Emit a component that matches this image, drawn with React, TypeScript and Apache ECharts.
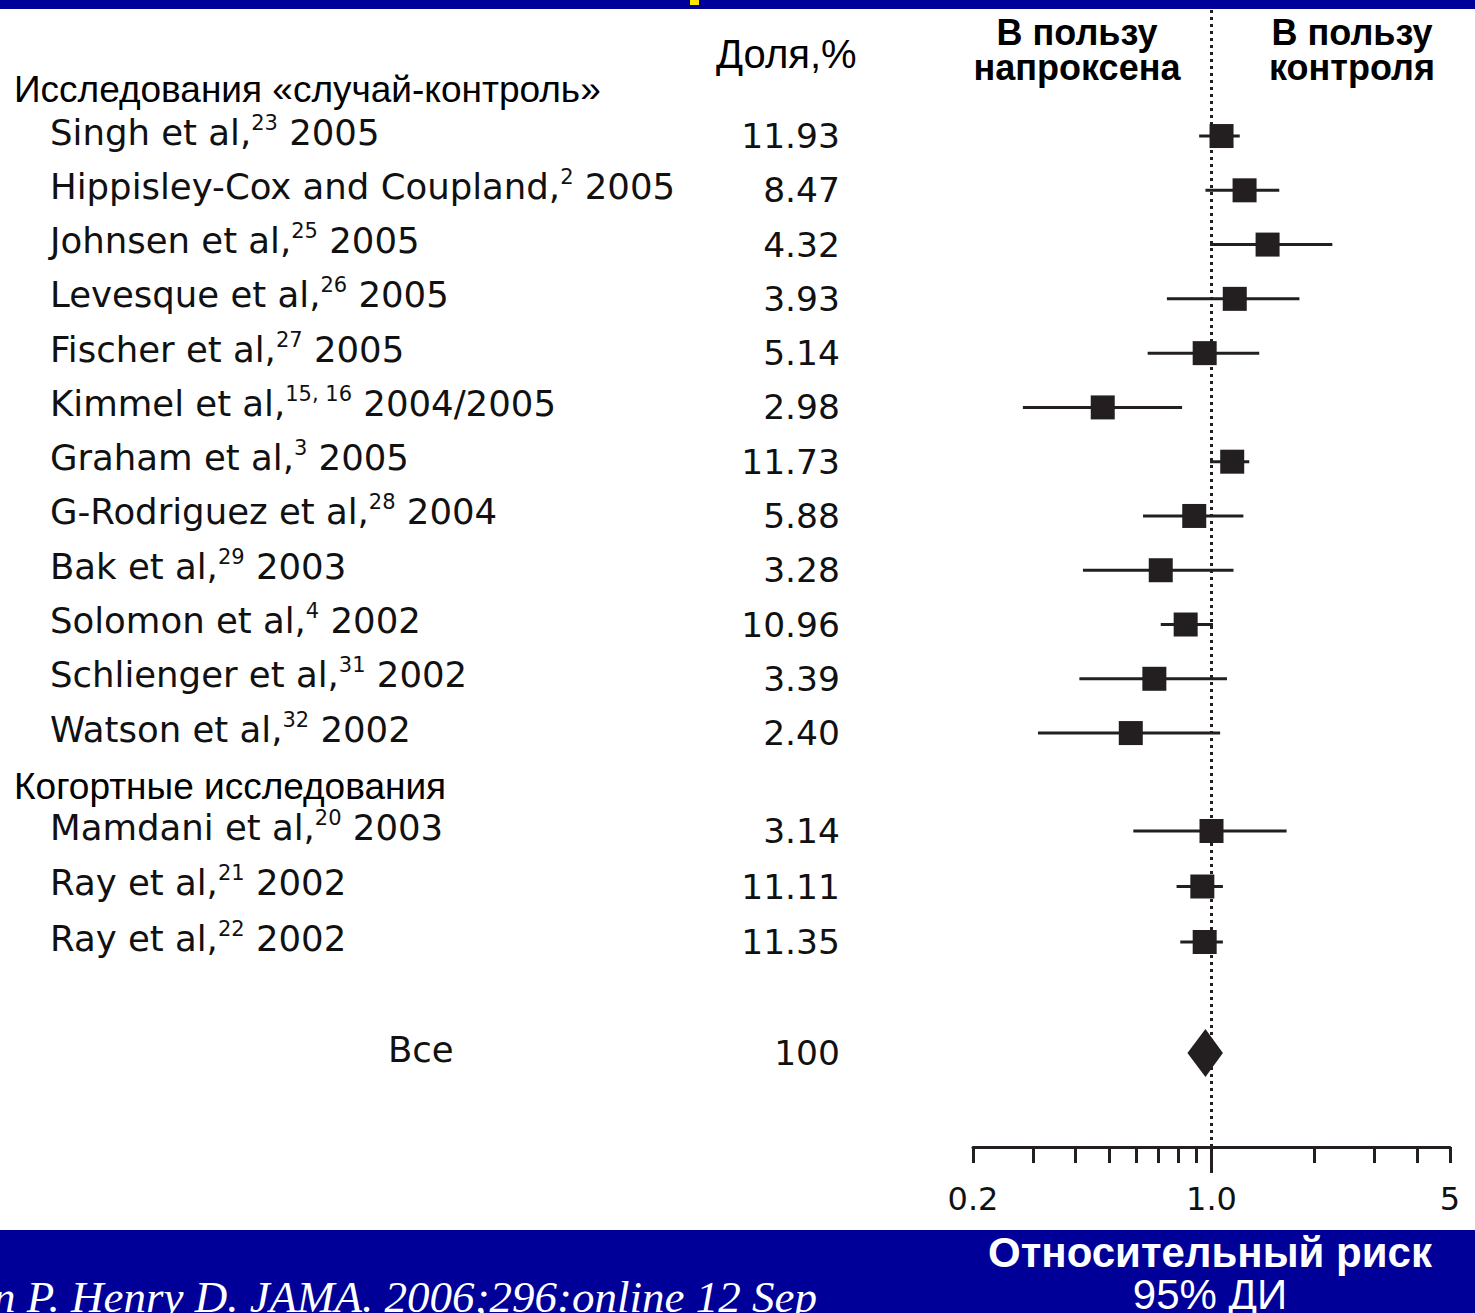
import React, { useEffect, useRef } from "react";
import * as echarts from "echarts";

// ---------- data ----------
const caseAuthors = [
  "Singh et al,",
  "Hippisley-Cox and Coupland,",
  "Johnsen et al,",
  "Levesque et al,",
  "Fischer et al,",
  "Kimmel et al,",
  "Graham et al,",
  "G-Rodriguez et al,",
  "Bak et al,",
  "Solomon et al,",
  "Schlienger et al,",
  "Watson et al,",
];
const caseRefs = ["23", "2", "25", "26", "27", "15, 16", "3", "28", "29", "4", "31", "32"];
const caseYears = ["2005", "2005", "2005", "2005", "2005", "2004/2005", "2005", "2004", "2003", "2002", "2002", "2002"];
const caseWeights = ["11.93", "8.47", "4.32", "3.93", "5.14", "2.98", "11.73", "5.88", "3.28", "10.96", "3.39", "2.40"];
const caseRR = [1.07, 1.25, 1.46, 1.17, 0.955, 0.48, 1.15, 0.89, 0.71, 0.84, 0.68, 0.58];
const caseLow = [0.92, 0.96, 0.99, 0.74, 0.65, 0.28, 0.99, 0.63, 0.42, 0.71, 0.41, 0.31];
const caseHigh = [1.21, 1.58, 2.26, 1.81, 1.38, 0.82, 1.29, 1.24, 1.16, 1.01, 1.11, 1.06];

const cohortAuthors = ["Mamdani et al,", "Ray et al,", "Ray et al,"];
const cohortRefs = ["20", "21", "22"];
const cohortYears = ["2003", "2002", "2002"];
const cohortWeights = ["3.14", "11.11", "11.35"];
const cohortRR = [1.0, 0.94, 0.955];
const cohortLow = [0.59, 0.79, 0.81];
const cohortHigh = [1.66, 1.08, 1.08];

const overallLabel = "Все";
const overallWeight = "100";
const overallRR = 0.96;
const overallLow = 0.85;
const overallHigh = 1.08;

const axisTickValues = [0.2, 0.3, 0.4, 0.5, 0.6, 0.7, 0.8, 0.9, 1, 2, 3, 4, 5];
const axisLabelValues = [0.2, 1, 5];
const referenceValue = 1;

const caseHeader = "Исследования «случай-контроль»";
const cohortHeader = "Когортные исследования";
const weightHeader = "Доля,%";
const favoursLeft = "В пользу\nнапроксена";
const favoursRight = "В пользу\nконтроля";
const xTitle1 = "Относительный риск";
const xTitle2 = "95% ДИ";
const citation = "McGettigan P. Henry D. JAMA. 2006;296:online 12 Sep";

// ---------- styles ----------
const INK = "#231f20";
const TEXT = "#111111";
const BLUE = "#000099";
const X_MIN = 0.19999;
const X_MAX = 5.0001;

const GRID_LEFT = 973;
const GRID_RIGHT = 25;

export default function App() {
  const ref = useRef<HTMLDivElement>(null);

  useEffect(() => {
    if (!ref.current) return;
    const chart = echarts.init(ref.current, null, { renderer: "svg" });

    const rowA = caseAuthors.map((_, i) => String(i));
    const bCount = cohortAuthors.length + 2;
    const rowB = Array.from({ length: bCount }, (_, i) => String(i));
    const overallIdx = bCount - 1;

    const rich: any = {
      a: { fontFamily: "DejaVu Sans", fontSize: 35.5, color: TEXT, lineHeight: 40 },
      s: { fontFamily: "DejaVu Sans", fontSize: 21, color: TEXT, lineHeight: 24, verticalAlign: "top" },
      all: { fontFamily: "DejaVu Sans", fontSize: 35.5, color: TEXT, lineHeight: 40, padding: [0, 0, 0, 338] },
    };

    const nameAxis = (gridIndex: number, data: string[], fmt: (i: number) => string) => ({
      gridIndex,
      type: "category",
      inverse: true,
      position: "left",
      data,
      axisLine: { show: false },
      axisTick: { show: false },
      splitLine: { show: false },
      axisLabel: {
        align: "left",
        margin: GRID_LEFT - 50,
        padding: [0, 0, 8, 0],
        formatter: (_v: string, i: number) => fmt(i),
        rich,
      },
    });

    const weightAxis = (gridIndex: number, data: string[], fmt: (i: number) => string) => ({
      gridIndex,
      type: "category",
      inverse: true,
      position: "left",
      data,
      axisLine: { show: false },
      axisTick: { show: false },
      splitLine: { show: false },
      axisLabel: {
        align: "right",
        margin: GRID_LEFT - 840,
        padding: [0, 0, 10, 0],
        fontFamily: "DejaVu Sans",
        fontSize: 34.5,
        color: TEXT,
        formatter: (_v: string, i: number) => fmt(i),
      },
    });

    const hiddenX = (gridIndex: number) => ({
      gridIndex,
      type: "log",
      logBase: 10,
      min: X_MIN,
      max: X_MAX,
      show: false,
      splitLine: { show: false },
    });

    const ciRender = (params: any, api: any) => {
      const y = api.value(0);
      const p1 = api.coord([api.value(1), y]);
      const p2 = api.coord([api.value(2), y]);
      return {
        type: "line",
        shape: { x1: p1[0], y1: p1[1], x2: p2[0], y2: p2[1] },
        style: { stroke: INK, lineWidth: 3 },
      };
    };

    const option: any = {
      animation: false,
      backgroundColor: "#ffffff",
      grid: [
        { left: GRID_LEFT, right: GRID_RIGHT, top: 108.9, height: 651.3, outerBoundsMode: "none" },
        { left: GRID_LEFT, right: GRID_RIGHT, top: 803.25, height: 277.5, outerBoundsMode: "none" },
        { left: GRID_LEFT, right: GRID_RIGHT, top: 9, height: 1138, outerBoundsMode: "none" },
      ],
      xAxis: [
        hiddenX(0),
        hiddenX(1),
        {
          gridIndex: 2,
          type: "log",
          logBase: 10,
          min: X_MIN,
          max: X_MAX,
          position: "bottom",
          axisLine: { show: true, lineStyle: { color: INK, width: 3 } },
          axisTick: { show: true, customValues: axisTickValues, length: 16, lineStyle: { color: INK, width: 3 } },
          axisLabel: {
            show: true,
            customValues: axisLabelValues,
            margin: 36,
            fontFamily: "DejaVu Sans",
            fontSize: 32,
            color: TEXT,
            formatter: (v: number) => (Math.abs(v - 1) < 1e-9 ? "1.0" : String(v)),
          },
          splitLine: { show: false },
          minorTick: { show: false },
        },
        {
          gridIndex: 2,
          type: "log",
          logBase: 10,
          min: X_MIN,
          max: X_MAX,
          position: "bottom",
          axisLine: { show: false },
          axisTick: { show: true, customValues: [referenceValue], length: 26, lineStyle: { color: INK, width: 3 } },
          axisLabel: { show: false },
          splitLine: { show: false },
        },
      ],
      yAxis: [
        nameAxis(0, rowA, (i) => `{a|${caseAuthors[i]}}{s|${caseRefs[i]}}{a| ${caseYears[i]}}`),
        weightAxis(0, rowA, (i) => caseWeights[i]),
        nameAxis(1, rowB, (i) => {
          if (i < cohortAuthors.length) return `{a|${cohortAuthors[i]}}{s|${cohortRefs[i]}}{a| ${cohortYears[i]}}`;
          if (i === overallIdx) return `{all|${overallLabel}}`;
          return "";
        }),
        weightAxis(1, rowB, (i) => {
          if (i < cohortWeights.length) return cohortWeights[i];
          if (i === overallIdx) return overallWeight;
          return "";
        }),
        { gridIndex: 2, type: "value", min: 0, max: 1, show: false, splitLine: { show: false } },
      ],
      series: [
        {
          type: "scatter",
          xAxisIndex: 2,
          yAxisIndex: 4,
          data: [],
          z: 1,
          markLine: {
            silent: true,
            symbol: ["none", "none"],
            label: { show: false },
            emphasis: { disabled: true },
            lineStyle: { color: INK, width: 3, type: [3, 4] },
            data: [{ xAxis: referenceValue }],
          },
        },
        {
          type: "custom",
          xAxisIndex: 0,
          yAxisIndex: 0,
          z: 9,
          renderItem: ciRender,
          encode: { x: [1, 2], y: 0 },
          data: caseLow.map((lo, i) => [i, lo, caseHigh[i]]),
        },
        {
          type: "scatter",
          xAxisIndex: 0,
          yAxisIndex: 0,
          z: 10,
          symbol: "rect",
          symbolSize: 24,
          itemStyle: { color: INK, opacity: 1 },
          data: caseRR.map((v, i) => [v, i]),
        },
        {
          type: "custom",
          xAxisIndex: 1,
          yAxisIndex: 2,
          z: 9,
          renderItem: ciRender,
          encode: { x: [1, 2], y: 0 },
          data: cohortLow.map((lo, i) => [i, lo, cohortHigh[i]]),
        },
        {
          type: "scatter",
          xAxisIndex: 1,
          yAxisIndex: 2,
          z: 10,
          symbol: "rect",
          symbolSize: 24,
          itemStyle: { color: INK, opacity: 1 },
          data: cohortRR.map((v, i) => [v, i]),
        },
        {
          type: "custom",
          xAxisIndex: 1,
          yAxisIndex: 2,
          z: 10,
          encode: { x: [1, 2, 3], y: 0 },
          data: [[overallIdx, overallLow, overallRR, overallHigh]],
          renderItem: (params: any, api: any) => {
            const y = api.value(0);
            const pl = api.coord([api.value(1), y]);
            const pc = api.coord([api.value(2), y]);
            const pr = api.coord([api.value(3), y]);
            return {
              type: "polygon",
              shape: {
                points: [
                  [pl[0], pc[1]],
                  [pc[0], pc[1] - 24],
                  [pr[0], pc[1]],
                  [pc[0], pc[1] + 24],
                ],
              },
              style: { fill: INK },
            };
          },
        },
      ],
      graphic: {
        elements: [
          { type: "rect", silent: true, shape: { x: 0, y: 0, width: 1475, height: 9 }, style: { fill: BLUE } },
          { type: "rect", silent: true, shape: { x: 690, y: 0, width: 9, height: 5 }, style: { fill: "#ffe600" } },
          { type: "rect", silent: true, shape: { x: 0, y: 1230, width: 1475, height: 83 }, style: { fill: BLUE } },
          {
            type: "text",
            x: 14,
            y: 89,
            style: { text: caseHeader, fontFamily: "Liberation Sans", fontSize: 37, fill: "#000", align: "left", verticalAlign: "middle" },
          },
          {
            type: "text",
            x: 14,
            y: 786,
            style: { text: cohortHeader, fontFamily: "Liberation Sans", fontSize: 37, fill: "#000", align: "left", verticalAlign: "middle" },
          },
          {
            type: "text",
            x: 716,
            y: 54,
            style: { text: weightHeader, fontFamily: "Liberation Sans", fontSize: 40, fill: "#000", align: "left", verticalAlign: "middle" },
          },
          {
            type: "text",
            x: 1077,
            y: 49.5,
            style: {
              text: favoursLeft,
              fontFamily: "Liberation Sans",
              fontWeight: "bold",
              fontSize: 36,
              lineHeight: 35,
              fill: "#000",
              align: "center",
              verticalAlign: "middle",
            },
          },
          {
            type: "text",
            x: 1352,
            y: 49.5,
            style: {
              text: favoursRight,
              fontFamily: "Liberation Sans",
              fontWeight: "bold",
              fontSize: 36,
              lineHeight: 35,
              fill: "#000",
              align: "center",
              verticalAlign: "middle",
            },
          },
          {
            type: "text",
            x: 1210,
            y: 1252,
            style: {
              text: xTitle1,
              fontFamily: "Liberation Sans",
              fontWeight: "bold",
              fontSize: 42,
              fill: "#ffffff",
              align: "center",
              verticalAlign: "middle",
            },
          },
          {
            type: "text",
            x: 1210,
            y: 1294,
            style: { text: xTitle2, fontFamily: "Liberation Sans", fontSize: 42, fill: "#ffffff", align: "center", verticalAlign: "middle" },
          },
          {
            type: "text",
            x: 817,
            y: 1297,
            style: {
              text: citation,
              fontFamily: "Liberation Serif",
              fontStyle: "italic",
              fontSize: 45,
              fill: "#ffffff",
              align: "right",
              verticalAlign: "middle",
            },
          },
        ],
      },
    };

    chart.setOption(option);
    return () => chart.dispose();
  }, []);

  return <div ref={ref} style={{ position: "absolute", left: 0, top: 0, width: 1475, height: 1313 }} />;
}
